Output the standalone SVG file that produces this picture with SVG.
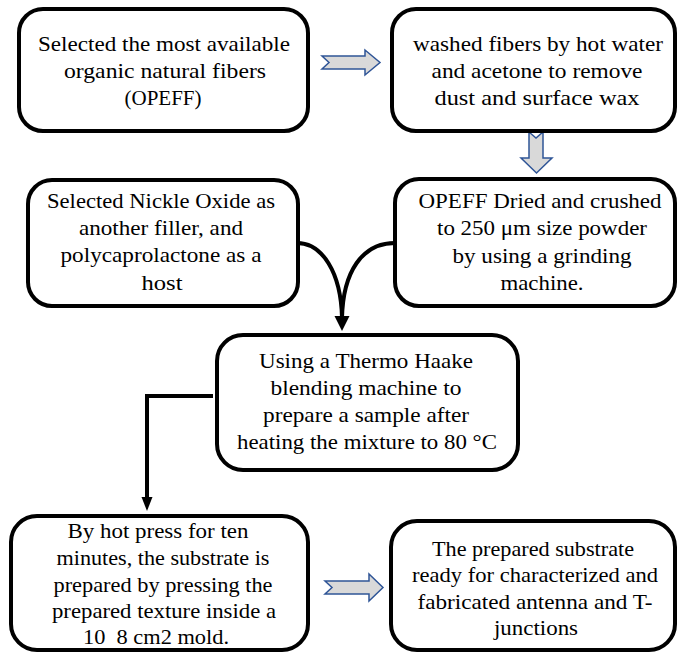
<svg xmlns="http://www.w3.org/2000/svg" width="678" height="654" viewBox="0 0 678 654" font-family="'Liberation Serif', 'Times New Roman', serif">
<style>
.box{fill:#fff;stroke:#000;stroke-width:4}
.t{font-size:21px;fill:#000;text-anchor:middle;white-space:pre}
.blk{fill:#d9d9d9;stroke:#2f5597;stroke-width:1.5;stroke-linejoin:miter}
.con{fill:none;stroke:#000;stroke-width:4}
.head{fill:#000}
</style>
<g id="connectors">
<polygon class="blk" points="322,56 365,56 365,50 380,62.5 365,75 365,69 322,69 329,62.5"/>
<polygon class="blk" points="529,132 536,138 543,132 543,158 552,158 536.5,173 521,158 529,158"/>
<polygon class="blk" points="325,581 369,581 369,574 383,587.5 369,601 369,594 325,594 332,587.5"/>
<path class="con" d="M297,243 C322,243 341,272 342,318"/>
<path class="con" d="M395,243 C362,243 343,272 342,318"/>
<polygon class="head" points="334.5,316 349.5,316 342,331"/>
<path class="con" d="M213,396 H147 V499"/>
<polygon class="head" points="141.5,497 152.5,497 147,511"/>
</g>
<g id="n1">
<rect class="box" x="19" y="9" width="289" height="122" rx="24"/>
<text class="t" x="164" y="51" textLength="252" lengthAdjust="spacingAndGlyphs">Selected the most available</text>
<text class="t" x="165" y="78" textLength="202" lengthAdjust="spacingAndGlyphs">organic natural fibers</text>
<text class="t" x="163" y="105" textLength="77" lengthAdjust="spacingAndGlyphs">(OPEFF)</text>
</g>
<g id="n2">
<rect class="box" x="392" y="9" width="283" height="122" rx="24"/>
<text class="t" x="538" y="51" textLength="250" lengthAdjust="spacingAndGlyphs">washed fibers by hot water</text>
<text class="t" x="537" y="78" textLength="211" lengthAdjust="spacingAndGlyphs">and acetone to remove</text>
<text class="t" x="537" y="105" textLength="205" lengthAdjust="spacingAndGlyphs">dust and surface wax</text>
</g>
<g id="n3">
<rect class="box" x="28" y="180" width="270" height="126" rx="24"/>
<text class="t" x="161" y="208" textLength="228" lengthAdjust="spacingAndGlyphs">Selected Nickle Oxide as</text>
<text class="t" x="161" y="235" textLength="164" lengthAdjust="spacingAndGlyphs">another filler, and</text>
<text class="t" x="161" y="262" textLength="201" lengthAdjust="spacingAndGlyphs">polycaprolactone as a</text>
<text class="t" x="162" y="290" textLength="41" lengthAdjust="spacingAndGlyphs">host</text>
</g>
<g id="n4">
<rect class="box" x="395" y="179" width="280" height="127" rx="24"/>
<text class="t" x="540" y="208" textLength="243" lengthAdjust="spacingAndGlyphs">OPEFF Dried and crushed</text>
<text class="t" x="542" y="235" textLength="210" lengthAdjust="spacingAndGlyphs">to 250 μm size powder</text>
<text class="t" x="542" y="263" textLength="179" lengthAdjust="spacingAndGlyphs">by using a grinding</text>
<text class="t" x="542" y="290" textLength="83" lengthAdjust="spacingAndGlyphs">machine.</text>
</g>
<g id="n5">
<rect class="box" x="217" y="335" width="301" height="135" rx="26"/>
<text class="t" x="366" y="368" textLength="214" lengthAdjust="spacingAndGlyphs">Using a Thermo Haake</text>
<text class="t" x="366" y="395" textLength="191" lengthAdjust="spacingAndGlyphs">blending machine to</text>
<text class="t" x="366" y="422" textLength="206" lengthAdjust="spacingAndGlyphs">prepare a sample after</text>
<text class="t" x="367" y="449" textLength="260" lengthAdjust="spacingAndGlyphs">heating the mixture to 80 °C</text>
</g>
<g id="n6">
<rect class="box" x="11" y="516" width="297" height="134" rx="26"/>
<text class="t" x="158" y="538" textLength="181" lengthAdjust="spacingAndGlyphs">By hot press for ten</text>
<text class="t" x="163" y="565" textLength="213" lengthAdjust="spacingAndGlyphs">minutes, the substrate is</text>
<text class="t" x="163" y="592" textLength="219" lengthAdjust="spacingAndGlyphs">prepared by pressing the</text>
<text class="t" x="164" y="618" textLength="224" lengthAdjust="spacingAndGlyphs">prepared texture inside a</text>
<text class="t" x="156" y="644" textLength="146" lengthAdjust="spacingAndGlyphs">10  8 cm2 mold.</text>
</g>
<g id="n7">
<rect class="box" x="391" y="521" width="284" height="129" rx="26"/>
<text class="t" x="533" y="556" textLength="202" lengthAdjust="spacingAndGlyphs">The prepared substrate</text>
<text class="t" x="535" y="582" textLength="246" lengthAdjust="spacingAndGlyphs">ready for characterized and</text>
<text class="t" x="535" y="609" textLength="235" lengthAdjust="spacingAndGlyphs">fabricated antenna and T-</text>
<text class="t" x="536" y="635" textLength="84" lengthAdjust="spacingAndGlyphs">junctions</text>
</g>
</svg>
